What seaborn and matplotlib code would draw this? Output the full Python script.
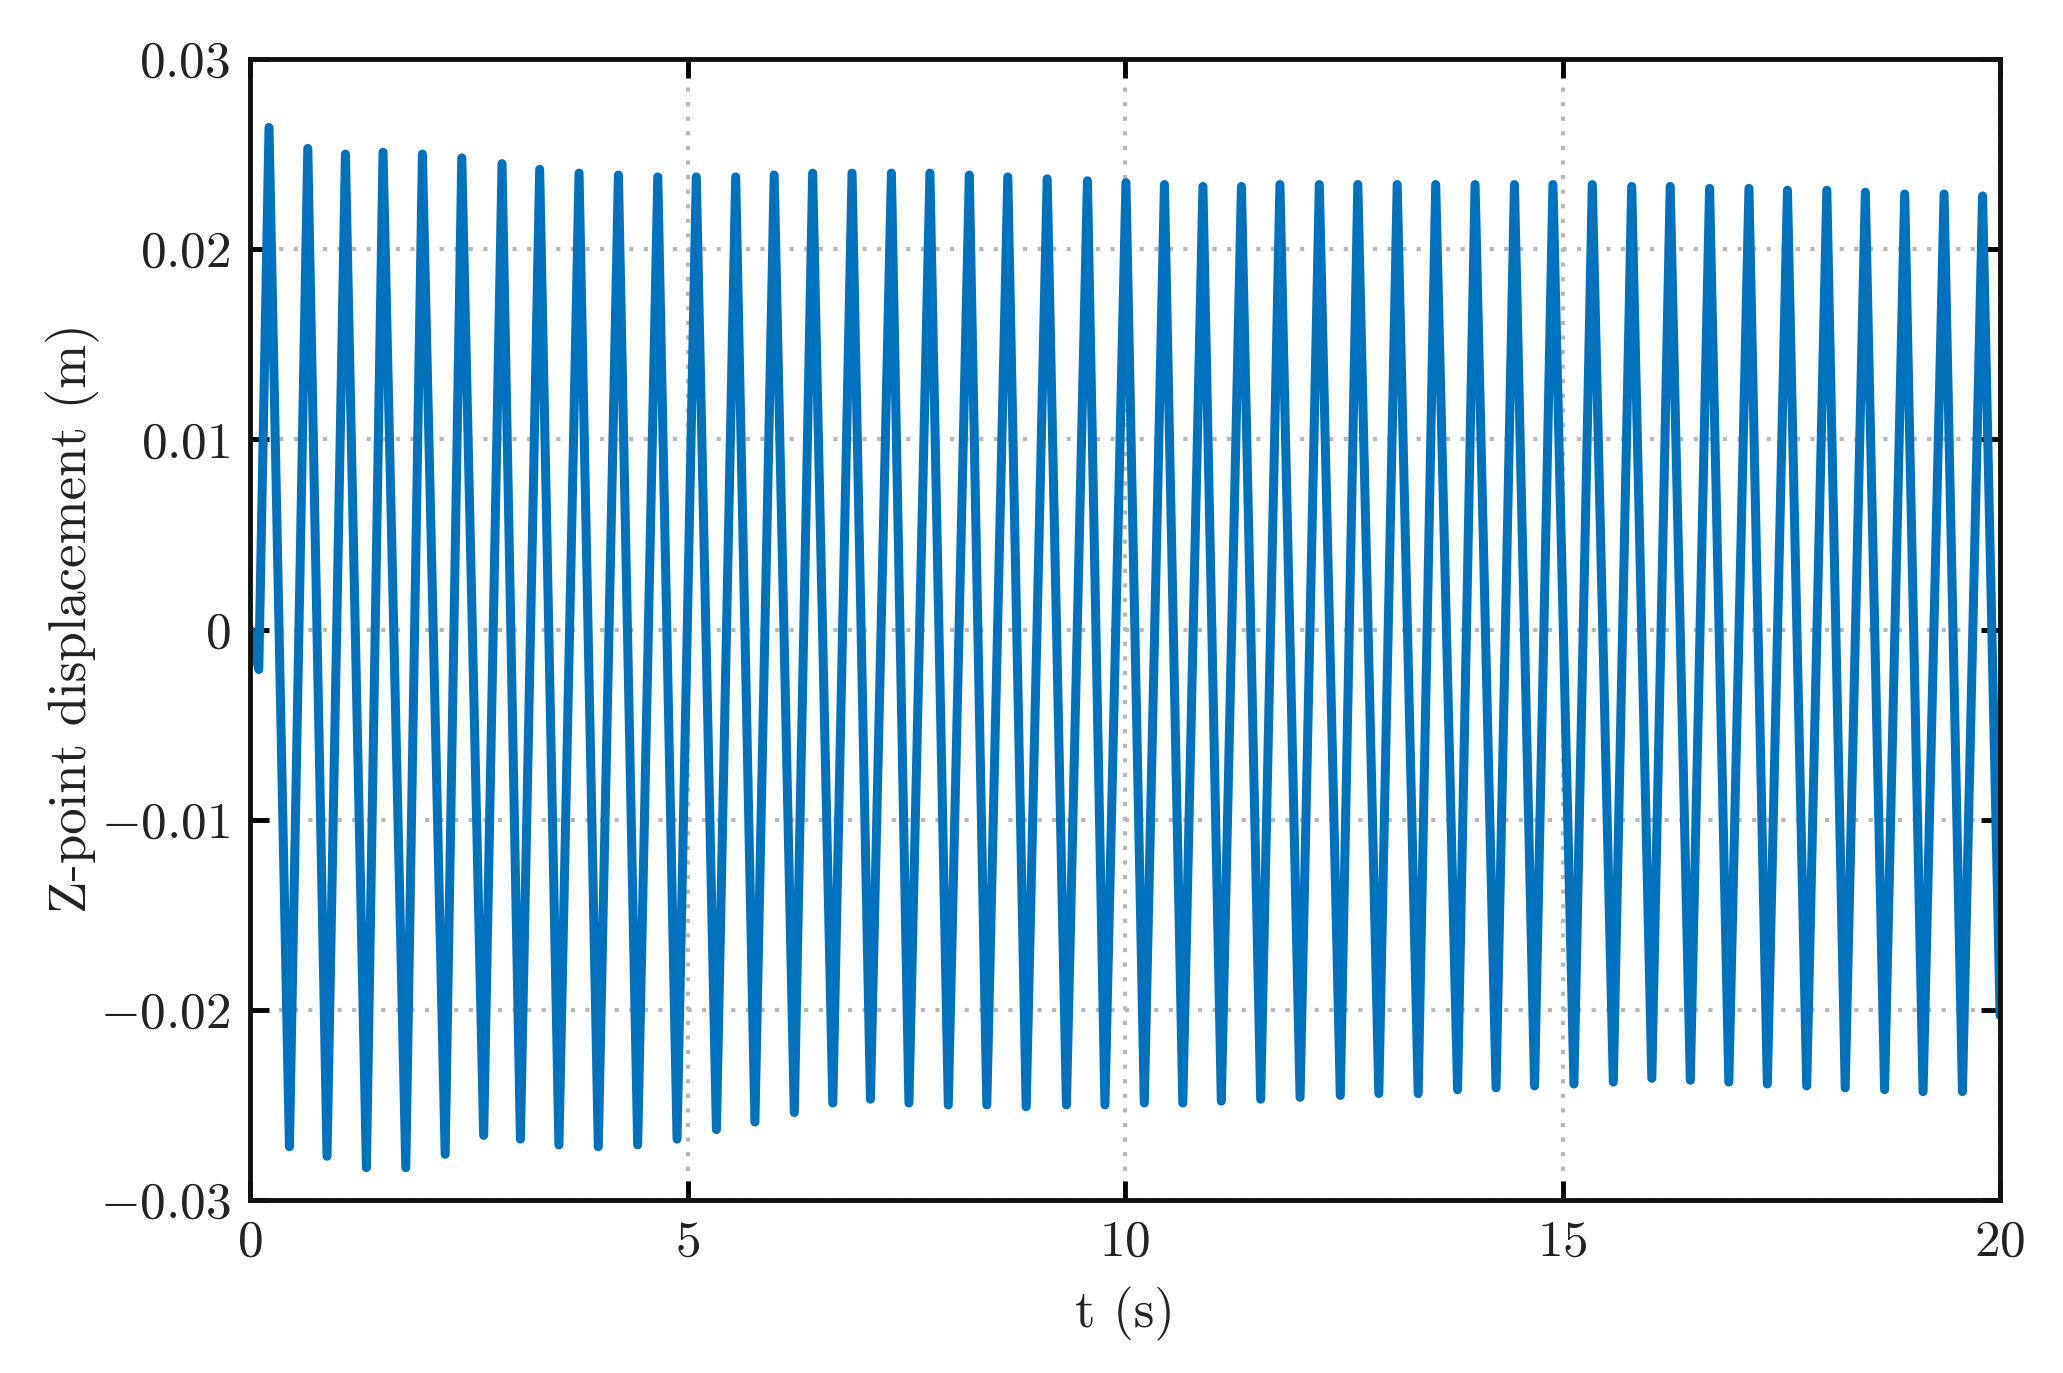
import pandas as pd
import matplotlib
matplotlib.use('Agg')
import matplotlib.pyplot as plt
import seaborn as sns

# values: local maxima / minima of the oscillation
start_t = [0.0, 0.10]
start_z = [0.0, -0.0021]

peak_t = [0.217, 0.66, 1.09, 1.52, 1.97, 2.42, 2.88, 3.31, 3.76, 4.21, 4.66, 5.10,
          5.55, 5.99, 6.43, 6.88, 7.33, 7.77, 8.22, 8.66, 9.11, 9.57, 10.01, 10.45,
          10.89, 11.33, 11.77, 12.22, 12.66, 13.11, 13.55, 14.00, 14.45, 14.89, 15.34,
          15.79, 16.23, 16.68, 17.13, 17.57, 18.02, 18.46, 18.91, 19.36, 19.80]
peak_z = [0.0264, 0.0253, 0.0250, 0.0251, 0.0250, 0.0248, 0.0245, 0.0242, 0.0240,
          0.0239, 0.0238, 0.0238, 0.0238, 0.0239, 0.0240, 0.0240, 0.0240, 0.0240,
          0.0239, 0.0238, 0.0237, 0.0236, 0.0235, 0.0234, 0.0233, 0.0233, 0.0234,
          0.0234, 0.0234, 0.0234, 0.0234, 0.0234, 0.0234, 0.0234, 0.0234, 0.0233,
          0.0233, 0.0232, 0.0232, 0.0231, 0.0231, 0.0230, 0.0229, 0.0229, 0.0228]

trough_t = [0.45, 0.88, 1.33, 1.78, 2.23, 2.67, 3.09, 3.53, 3.98, 4.43, 4.88, 5.33,
            5.77, 6.22, 6.66, 7.09, 7.53, 7.98, 8.42, 8.87, 9.33, 9.77, 10.22, 10.66,
            11.10, 11.55, 12.00, 12.46, 12.90, 13.35, 13.80, 14.24, 14.68, 15.13,
            15.58, 16.02, 16.46, 16.90, 17.34, 17.79, 18.23, 18.68, 19.12, 19.57]
trough_z = [-0.0272, -0.0277, -0.0283, -0.0283, -0.0276, -0.0266, -0.0268, -0.0271,
            -0.0272, -0.0271, -0.0268, -0.0263, -0.0259, -0.0254, -0.0249, -0.0247,
            -0.0249, -0.0250, -0.0250, -0.0251, -0.0250, -0.0250, -0.0249, -0.0249,
            -0.0248, -0.0247, -0.0246, -0.0245, -0.0244, -0.0244, -0.0242, -0.0241,
            -0.0240, -0.0239, -0.0238, -0.0236, -0.0237, -0.0238, -0.0239, -0.0240,
            -0.0241, -0.0242, -0.0243, -0.0243]

end_t = [20.0]
end_z = [-0.0203]

x_ticks = [0, 5, 10, 15, 20]
x_tick_labels = ['$0$', '$5$', '$10$', '$15$', '$20$']
y_ticks = [-0.03, -0.02, -0.01, 0, 0.01, 0.02, 0.03]
y_tick_labels = ['$-0.03$', '$-0.02$', '$-0.01$', '$0$', '$0.01$', '$0.02$', '$0.03$']

df = pd.DataFrame({'t': start_t + peak_t + trough_t + end_t,
                   'z': start_z + peak_z + trough_z + end_z})
df = df.sort_values('t').reset_index(drop=True)

sns.set_theme(style='white')
plt.rcParams['font.family'] = 'cmr10'
plt.rcParams['mathtext.fontset'] = 'cm'
plt.rcParams['axes.unicode_minus'] = False

fig = plt.figure(figsize=(20.63, 13.73), dpi=100)
ax = fig.add_axes([0.1212, 0.126, 0.8483, 0.831])

sns.lineplot(data=df, x='t', y='z', estimator=None, sort=False, color='#0072BD',
             linewidth=6.5, solid_joinstyle='round', solid_capstyle='round', ax=ax)

ax.set_xlim(0, 20)
ax.set_ylim(-0.03, 0.03)
ax.set_xticks(x_ticks)
ax.set_xticklabels(x_tick_labels)
ax.set_yticks(y_ticks)
ax.set_yticklabels(y_tick_labels)

ax.set_axisbelow(True)
ax.grid(True, linestyle=(0, (1, 2.5)), color='#b8b8b8', linewidth=3)

ax.tick_params(direction='in', length=14, width=3.5, color='black',
               left=True, bottom=True, top=True, right=True,
               labelsize=37, pad=14, labelcolor='#222222')
for s in ax.spines.values():
    s.set_visible(True)
    s.set_color('#111111')
    s.set_linewidth(3.5)

ax.set_xlabel('t (s)', fontsize=38, color='#222222')
ax.set_ylabel('Z-point displacement (m)', fontsize=38, color='#222222')
ax.xaxis.set_label_coords(0.5, -0.076)
ax.yaxis.set_label_coords(-0.086, 0.51)

fig.savefig('out.png', dpi=100)
plt.close(fig)
